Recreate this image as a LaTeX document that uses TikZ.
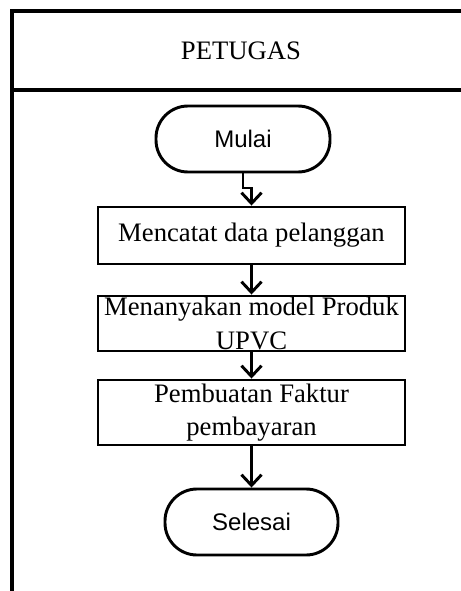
\documentclass[tikz,border=0pt]{standalone}
\usepackage{fontspec}
\setmainfont{Liberation Serif}
\newfontfamily\sansf{Liberation Sans}
\usetikzlibrary{arrows.meta}

\tikzset{
  frameline/.style={line width=2.4pt, line cap=rect},
  procbox/.style={draw, line width=2.2pt, rectangle, minimum width=230.25pt,
    inner sep=0pt, align=center, font=\fontsize{20}{25}\selectfont},
  terminal/.style={draw, line width=2.2pt, rectangle, rounded corners=24pt,
    minimum height=49.5pt, inner sep=0pt, font=\sansf\fontsize{18}{22}\selectfont},
  flow/.style={line width=2.2pt, -{Straight Barb[length=8pt,width=15pt]}},
}

\begin{document}
\begin{tikzpicture}[x=0.75pt, y=-0.75pt]
  \useasboundingbox (0,0) rectangle (460,591);

  % swimlane frame
  \coordinate (tl) at (12,11);
  \coordinate (tr) at (460,11);
  \coordinate (bl) at (12,591);
  \coordinate (sl) at (12,90);
  \coordinate (sr) at (460,90);
  \draw[frameline] (tr) -- (tl) -- (bl);
  \draw[frameline] (sl) -- (sr);
  \node[font=\fontsize{20}{24}\selectfont] (lane) at (241,51) {PETUGAS};

  % flow steps
  \node[terminal, minimum width=130.5pt] (mulai) at (243,139) {Mulai};
  \node[procbox, minimum height=42.75pt] (catat) at (251.5,235.5) {Mencatat data pelanggan};
  \node[procbox, minimum height=41.25pt] (tanya) at (251.5,323.5) {Menanyakan model Produk\\UPVC};
  \node[procbox, minimum height=48.75pt] (faktur) at (251.5,412.5) {Pembuatan Faktur\\pembayaran};
  \node[terminal, minimum width=129.75pt] (selesai) at (251.5,522) {Selesai};

  % connectors
  \coordinate (j1) at (243,188);
  \coordinate (j2) at (251.5,188);
  \draw[flow] (mulai.south) -- (j1) -- (j2) -- (catat.north);
  \draw[flow] (catat.south) -- (tanya.north);
  \draw[flow] (tanya.south) -- (faktur.north);
  \draw[flow] (faktur.south) -- (selesai.north);
\end{tikzpicture}
\end{document}
